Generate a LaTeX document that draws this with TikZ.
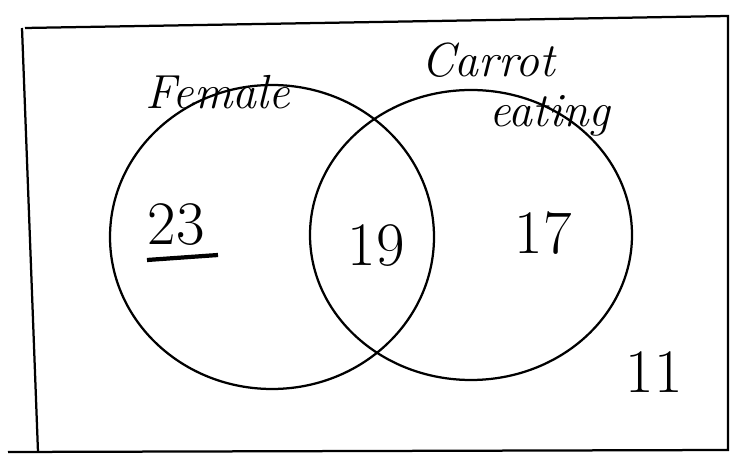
\documentclass[tikz,border=0pt]{standalone}
\usepackage{amsmath, amssymb}
\usepackage{tikz}

\begin{document}
\begin{tikzpicture}[x=0.025cm, y=-0.025cm, line width=1.6pt,
  every node/.style={font=\fontsize{44}{50}\selectfont, inner sep=0pt},
  setlabel/.style={font=\fontsize{34}{38}\selectfont\itshape}]

\useasboundingbox (0,0) rectangle (730,457);

% universal set
\draw (25,28) -- (728,16) -- (728,450) -- (8,452);
\draw (22,28) -- (38,452);

% the two sets
\draw (272,237) ellipse (162 and 152);
\draw (471,235) ellipse (161 and 145);

\node[setlabel] (female) at (218,92) {Female};
\node[setlabel] (carrot) at (488,60) {Carrot};
\node[setlabel] (eating) at (550,116) {eating};

\node (onlyf) at (176,225) {23};
\draw[line width=3pt] (147,260) -- (218,255);
\node (both) at (376,246) {19};
\node (onlyc) at (543,233) {17};
\node (none) at (654,372) {11};

\end{tikzpicture}
\end{document}
